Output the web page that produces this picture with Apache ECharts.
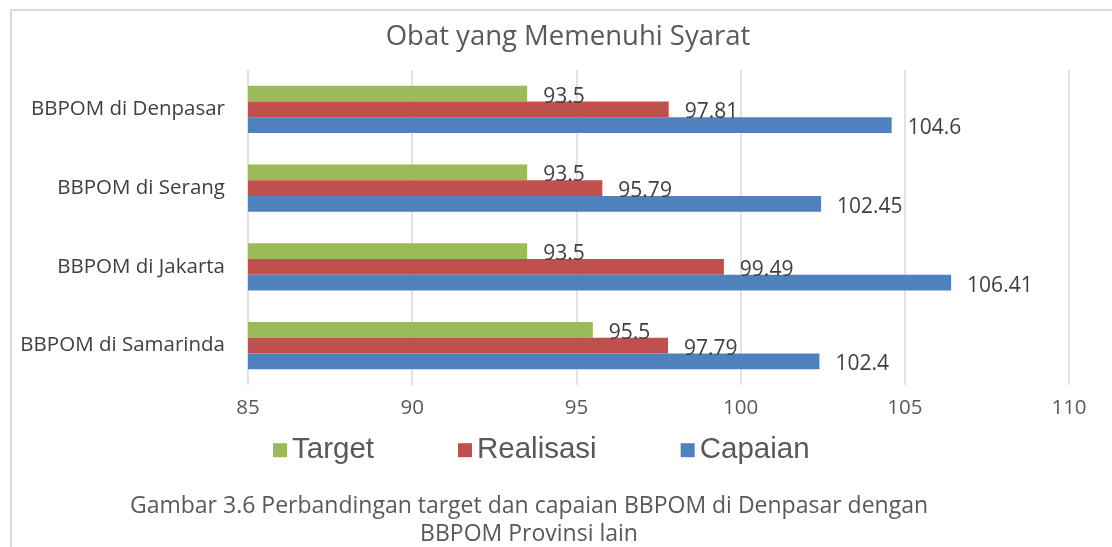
<!DOCTYPE html>
<html>
<head>
    <title>Obat yang Memenuhi Syarat</title>
    <script src="https://cdn.jsdelivr.net/npm/echarts@6.0.0/dist/echarts.min.js"></script>
    <style>
        html, body { margin: 0; padding: 0; background: #fff; }
        #grafico { width: 1112px; height: 547px; }
    </style>
</head>
<body>
    <div id="grafico"></div>
    <script>
        // Datos (de abajo hacia arriba en el eje de categorías)
        const kategori = ['BBPOM di Samarinda', 'BBPOM di Jakarta', 'BBPOM di Serang', 'BBPOM di Denpasar'];
        const target = [95.5, 93.5, 93.5, 93.5];
        const realisasi = [97.79, 99.49, 95.79, 97.81];
        const capaian = [102.4, 106.41, 102.45, 104.6];

        const fuente = 'Open Sans';
        const label = {
            show: true,
            position: 'right',
            distance: 16,
            offset: [0, 3],
            fontFamily: fuente,
            fontSize: 21,
            color: '#404040'
        };

        const chart = echarts.init(document.getElementById('grafico'));
        chart.setOption({
            animation: false,
            title: [
                {
                    text: 'Obat yang Memenuhi Syarat',
                    left: 563,
                    textAlign: 'center',
                    top: 14,
                    textStyle: { fontFamily: fuente, fontSize: 27.5, fontWeight: 'normal', color: '#595959' }
                },
                {
                    text: 'Gambar 3.6 Perbandingan target dan capaian BBPOM di Denpasar dengan\nBBPOM Provinsi lain',
                    left: 524,
                    textAlign: 'center',
                    top: 487,
                    textStyle: { fontFamily: fuente, fontSize: 23, fontWeight: 'normal', color: '#595959', lineHeight: 28, align: 'center' }
                }
            ],
            legend: {
                data: ['Target', 'Realisasi', 'Capaian'],
                left: 268,
                top: 428,
                itemWidth: 14,
                itemHeight: 14,
                itemGap: 84,
                icon: 'rect',
                textStyle: { fontFamily: 'Liberation Sans', fontSize: 29.5, color: '#595959' }
            },
            grid: { left: 248, right: 43, top: 70, bottom: 162 },
            xAxis: {
                type: 'value',
                min: 85,
                max: 110,
                interval: 5,
                axisLine: { show: false },
                axisTick: { show: false },
                splitLine: { lineStyle: { color: '#d9d9d9', width: 1.5 } },
                axisLabel: { fontFamily: fuente, fontSize: 20.5, color: '#595959', margin: 10 }
            },
            yAxis: {
                type: 'category',
                data: kategori,
                axisLine: { show: false },
                axisTick: { show: false },
                axisLabel: { fontFamily: fuente, fontSize: 20.5, color: '#404040', margin: 23 }
            },
            series: [
                { name: 'Target', type: 'bar', data: target, itemStyle: { color: '#9BBB59' }, label: label, barGap: 0, barCategoryGap: '40%' },
                { name: 'Realisasi', type: 'bar', data: realisasi, itemStyle: { color: '#C0504D' }, label: label },
                { name: 'Capaian', type: 'bar', data: capaian, itemStyle: { color: '#4F81BD' }, label: label }
            ],
            graphic: [{
                type: 'rect',
                shape: { x: 11, y: 10, width: 1130, height: 560 },
                style: { fill: null, stroke: '#d9d9d9', lineWidth: 2 },
                silent: true
            }]
        });
    </script>
</body>
</html>
